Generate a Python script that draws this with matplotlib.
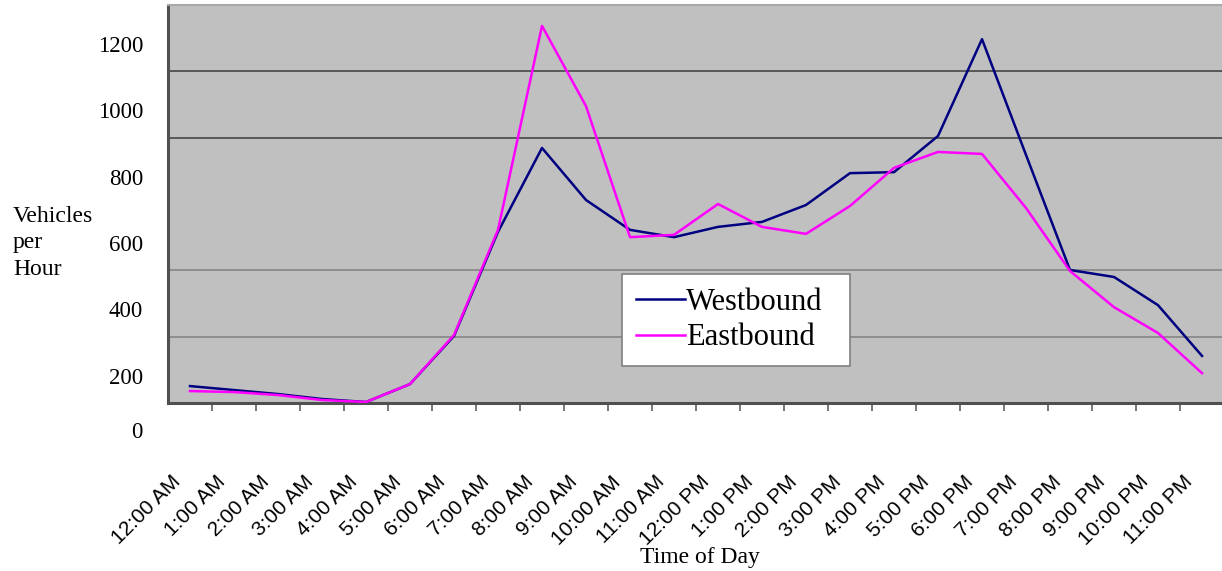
import matplotlib.pyplot as plt
import matplotlib.transforms as mtransforms
import numpy as np

# hourly volumes
hours = ['12:00 AM', '1:00 AM', '2:00 AM', '3:00 AM', '4:00 AM', '5:00 AM',
         '6:00 AM', '7:00 AM', '8:00 AM', '9:00 AM', '10:00 AM', '11:00 AM',
         '12:00 PM', '1:00 PM', '2:00 PM', '3:00 PM', '4:00 PM', '5:00 PM',
         '6:00 PM', '7:00 PM', '8:00 PM', '9:00 PM', '10:00 PM', '11:00 PM']
westbound = [51, 39, 27, 12, 3, 57, 202, 516, 769, 612, 522, 500,
             531, 546, 597, 693, 696, 805, 1097, 748, 401, 380, 295, 142]
eastbound = [36, 33, 24, 9, 3, 57, 205, 522, 1137, 895, 500, 507,
             600, 531, 510, 594, 709, 757, 751, 588, 398, 289, 211, 90]

ytick_vals = [0, 200, 400, 600, 800, 1000, 1200]
ytick_labels = ['0', '200', '400', '600', '800', '1000', '1200']
grid_vals = [200, 400, 800, 1000]

serif = 'Liberation Serif'
sans = 'Liberation Sans'

fig = plt.figure(figsize=(12.22, 5.71), dpi=100)
ax = fig.add_axes([168 / 1222, 168 / 571, 1056 / 1222, 398 / 571])
ax.set_facecolor('#c0c0c0')

x = np.arange(len(hours))
ax.plot(x, westbound, color='#000080', lw=1.8, label='Westbound', zorder=3)
ax.plot(x, eastbound, color='#ff00ff', lw=1.8, label='Eastbound', zorder=3)

ax.set_xlim(-0.5, len(hours) - 0.5)
ax.set_ylim(0, 1200)

# gridlines (the 600 one is missing in the original)
grid_colors = ['#8a8a8a', '#8a8a8a', '#505050', '#505050']
for g, c in zip(grid_vals, grid_colors):
    ax.axhline(g, color=c, lw=1.3, zorder=1)

# spines
for s in ['left', 'bottom']:
    ax.spines[s].set_color('#505050')
    ax.spines[s].set_linewidth(2.2)
ax.spines['top'].set_color('#a8a8a8')
ax.spines['top'].set_linewidth(1.5)
ax.spines['right'].set_visible(False)

# y axis: stubs at the gridlines, labels shifted down as in the scan
ax.set_yticks(grid_vals + [0, 1200], minor=True)
ax.tick_params(axis='y', which='minor', length=6, width=1.3, color='#606060', direction='out')
ax.set_yticks(ytick_vals)
ax.set_yticklabels(ytick_labels, fontfamily=serif, fontsize=16.5)
ax.tick_params(axis='y', which='major', length=0, pad=18)
for lab in ax.get_yticklabels():
    dy = -0.27 if lab.get_text() == '0' else -0.39
    lab.set_transform(lab.get_transform() +
                      mtransforms.ScaledTranslation(0, dy, fig.dpi_scale_trans))

# x axis: tick marks between categories, labels at category centres
ax.set_xticks(np.arange(0.5, len(hours) - 0.5, 1.0))
ax.set_xticklabels([])
ax.tick_params(axis='x', which='major', length=6, width=1.2, color='#606060', direction='out')
ax.set_xticks(x, minor=True)
ax.set_xticklabels(hours, minor=True, fontfamily=sans, fontsize=15,
                   rotation=45, ha='right', va='center', rotation_mode='anchor')
ax.tick_params(axis='x', which='minor', length=0, pad=0)
for lab in ax.get_xticklabels(minor=True):
    lab.set_transform(lab.get_transform() +
                      mtransforms.ScaledTranslation(-0.12, -0.76, fig.dpi_scale_trans))

# legend
leg = ax.legend(loc='lower left', bbox_to_anchor=(0.430, 0.093, 0.216, 0.24),
                mode='expand', prop={'family': serif, 'size': 22},
                handlelength=1.6, handletextpad=0.05, labelspacing=0.2,
                borderpad=0.45, borderaxespad=0, fancybox=False, framealpha=1,
                facecolor='white', edgecolor='#808080')
leg.get_frame().set_linewidth(1.2)

fig.text(13 / 1222, 1 - 243 / 571, 'Vehicles\nper\nHour', ha='left', va='center',
         fontfamily=serif, fontsize=17, linespacing=1.35)
fig.text(700 / 1222, 1 - 558 / 571, 'Time of Day', ha='center', va='center',
         fontfamily=serif, fontsize=17)

fig.savefig('out.png', dpi=100)
